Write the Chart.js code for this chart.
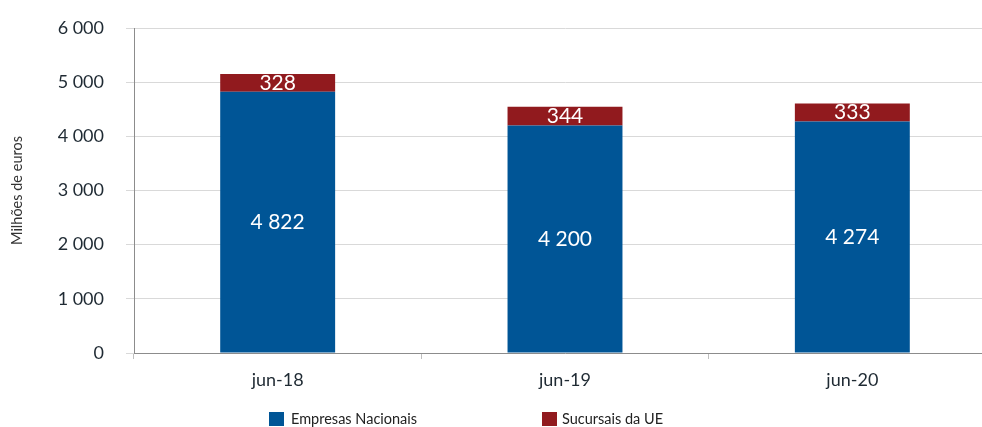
<!DOCTYPE html>
<html>
<head>
<meta charset="utf-8">
<script src="https://cdn.jsdelivr.net/npm/chart.js@4/dist/chart.umd.min.js"></script>
<style>
  html, body { margin: 0; padding: 0; background: #fff; overflow: hidden; width: 982px; height: 427px; }
  #wrap { position: relative; width: 998px; height: 427px; }
  canvas { display: block; }
  .lg { position: absolute; font-family: Lato, "Open Sans", sans-serif; font-size: 14.5px; color: #222; white-space: nowrap; line-height: 14px; }
  .lgbox { position: absolute; width: 15px; height: 14px; }
</style>
</head>
<body>
<div id="wrap">
  <canvas id="c" width="998" height="427"></canvas>
  <div class="lgbox" style="left:269px; top:412px; background:#005596;"></div>
  <div class="lg" style="left:291px; top:412px;">Empresas Nacionais</div>
  <div class="lgbox" style="left:542px; top:412px; background:#911a1e;"></div>
  <div class="lg" style="left:562px; top:412px;">Sucursais da UE</div>
</div>
<script>
const categories = ['jun-18', 'jun-19', 'jun-20'];
const empresasNacionais = [4822, 4200, 4274];
const sucursaisUE = [328, 344, 333];
const seriesNames = ['Empresas Nacionais', 'Sucursais da UE'];
const yTickValues = [0, 1000, 2000, 3000, 4000, 5000, 6000];
const yTitle = 'Milhões de euros';

function fmt(n) {
  return String(n).replace(/\B(?=(\d{3})+(?!\d))/g, ' ');
}

const FONT = 'Lato, "Open Sans", sans-serif';

const valueLabels = {
  id: 'valueLabels',
  afterDatasetsDraw(chart) {
    const ctx = chart.ctx;
    ctx.save();
    ctx.fillStyle = '#ffffff';
    ctx.textAlign = 'center';
    ctx.textBaseline = 'middle';
    ctx.font = '21px ' + FONT;
    chart.data.datasets.forEach((ds, di) => {
      const meta = chart.getDatasetMeta(di);
      meta.data.forEach((el, i) => {
        const p = el.getProps(['x', 'y', 'base'], true);
        ctx.fillText(fmt(ds.data[i]), p.x, (p.y + p.base) / 2);
      });
    });
    ctx.restore();
  }
};

function build() {
  new Chart(document.getElementById('c'), {
    type: 'bar',
    data: {
      labels: categories,
      datasets: [
        { label: seriesNames[0], data: empresasNacionais, backgroundColor: '#005596', borderWidth: 0 },
        { label: seriesNames[1], data: sucursaisUE, backgroundColor: '#911a1e', borderWidth: 0 }
      ]
    },
    options: {
      responsive: false,
      animation: false,
      layout: { padding: { top: 28, right: 2, left: 0, bottom: 0 } },
      plugins: { legend: { display: false }, tooltip: { enabled: false } },
      datasets: { bar: { barPercentage: 0.4, categoryPercentage: 1.0 } },
      scales: {
        x: {
          stacked: true,
          grid: { drawOnChartArea: false, tickLength: 6, color: '#bfbfbf', offset: true },
          border: { color: '#8c8c8c' },
          ticks: { font: { family: FONT, size: 18 }, color: '#1f2a33', padding: 10 },
          afterFit(s) { s.height = 74; }
        },
        y: {
          stacked: true,
          min: 0,
          max: 6000,
          afterBuildTicks(s) { s.ticks = yTickValues.map(v => ({ value: v })); },
          grid: { color: '#d9d9d9', tickLength: 8 },
          border: { color: '#8c8c8c' },
          ticks: { font: { family: FONT, size: 18 }, color: '#1f2a33', padding: 22, callback: v => fmt(v) },
          title: { display: true, text: yTitle, font: { family: FONT, size: 14.5 }, color: '#333', padding: { top: 9, bottom: 0 } },
          afterFit(s) { s.width = 134; s.paddingTop = 0; s.paddingBottom = 0; }
        }
      }
    },
    plugins: [valueLabels]
  });
}

if (document.fonts && document.fonts.load) {
  Promise.all([document.fonts.load('21px Lato'), document.fonts.load('18px Lato')]).then(build, build);
} else {
  build();
}
</script>
</body>
</html>
